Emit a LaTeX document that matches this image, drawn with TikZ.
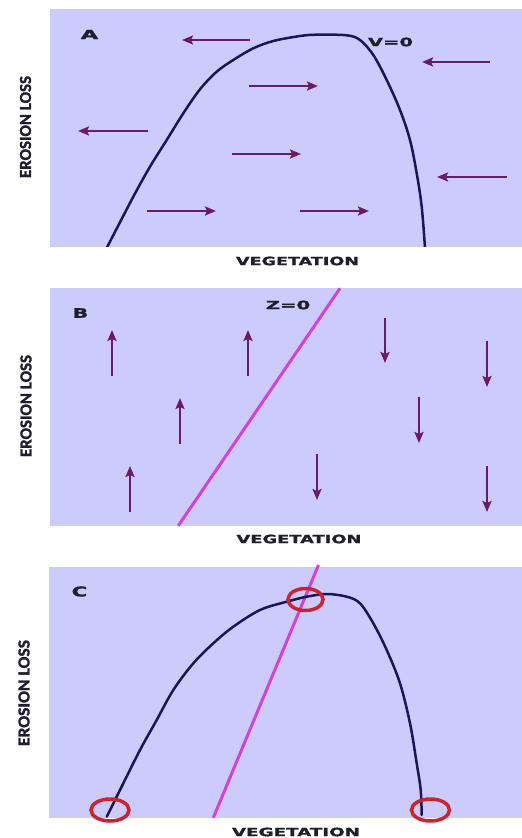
\documentclass[tikz,border=0pt]{standalone}
\usepackage{fontspec}
\usepackage{graphicx}
\usetikzlibrary{arrows.meta}
\newfontfamily\vfont{DejaVu Sans}[BoldFeatures={FakeBold=1.2}]
\newfontfamily\cfont{Carlito}[BoldFeatures={FakeBold=1.5}]
\definecolor{bg}{RGB}{204,204,252}
\definecolor{arrc}{RGB}{110,25,100}
\definecolor{curvec}{RGB}{22,22,88}
\definecolor{magc}{RGB}{214,64,214}
\definecolor{redc}{RGB}{205,35,45}
\definecolor{txtc}{RGB}{30,30,45}
\newcommand{\vtext}[3]{\resizebox{#1pt}{#2pt}{\vfont\bfseries #3}}
\newcommand{\ctext}[3]{\resizebox{#1pt}{#2pt}{\cfont\bfseries #3}}
\begin{document}
\begin{tikzpicture}[x=1pt,y=-1pt,
  panel/.style={fill=bg,draw=none},
  arr/.style={draw=arrc,line width=2.2pt,-{Stealth[length=11pt,width=9pt,inset=2pt]}},
  curve/.style={draw=curvec,line width=2.5pt,line cap=round,line join=round},
  zline/.style={draw=magc,line width=3pt},
  ring/.style={draw=redc,line width=3.5pt},
  lab/.style={inner sep=0pt,text=txtc}]
\useasboundingbox (0,0) rectangle (522,838);
\fill[white] (0,0) rectangle (522,838);

% ---------- Panel A ----------
\fill[panel] (50,9.3) rectangle (522,246.7);
\begin{scope}
\clip (50,9.3) rectangle (522,246.7);
\draw[curve] plot[smooth,tension=0.55] coordinates {(106.7,248) (133.3,196.7) (150,166.7) (166.7,140) (183.3,113.3) (200,89.3) (216.7,71.7) (233.3,60) (253.3,48.3) (273.3,41) (300,36) (316.7,34.7) (346.7,35.3) (360,40) (373.3,55) (386.7,80) (400,110) (410,140) (416.7,173.3) (421.7,206.7) (425,248)};
\end{scope}
\draw[arr] (250,40) -- (182,40);
\draw[arr] (490,62) -- (422,62);
\draw[arr] (249,86) -- (318,86);
\draw[arr] (148,131) -- (78,131);
\draw[arr] (232,154) -- (301,154);
\draw[arr] (507,177) -- (437,177);
\draw[arr] (147,211) -- (216,211);
\draw[arr] (300,211) -- (369,211);
\node[lab] (la) at (89.5,34.5) {\vtext{17.5}{9}{A}};
\node[lab] (v0) at (390.5,42) {\vtext{45}{8.5}{V=0}};
\node[lab,rotate=90] (ya) at (25.5,127) {\ctext{102}{11}{EROSION LOSS}};
\node[lab] (xa) at (297.5,261) {\vtext{123}{8.5}{VEGETATION}};

% ---------- Panel B ----------
\fill[panel] (50,288.3) rectangle (522,525.7);
\draw[zline] (178.3,525.7) -- (340,288.3);
\draw[arr] (112,376) -- (112,330);
\draw[arr] (248,376) -- (248,330);
\draw[arr] (180,444) -- (180,398);
\draw[arr] (130,512) -- (130,466);
\draw[arr] (385,318) -- (385,363);
\draw[arr] (487,341) -- (487,387);
\draw[arr] (419,397) -- (419,443);
\draw[arr] (317,454) -- (317,500);
\draw[arr] (487,466) -- (487,512);
\node[lab] (lb) at (80.5,313) {\vtext{15.5}{9.5}{B}};
\node[lab] (z0) at (288,305) {\vtext{44.5}{8.5}{Z=0}};
\node[lab,rotate=90] (yb) at (26,406) {\ctext{102}{11}{EROSION LOSS}};
\node[lab] (xb) at (299,539) {\vtext{125}{8.5}{VEGETATION}};

% ---------- Panel C ----------
\fill[panel] (49.3,566.7) rectangle (522,817.7);
\draw[zline] (213.3,817.7) -- (318.5,565);
\draw[curve] plot[smooth,tension=0.55] coordinates {(106.7,816.7) (120,790) (140,750) (156.7,720) (173.3,690) (193.3,663.3) (213.3,643.3) (233.3,626.7) (260,610) (286.7,601.7) (306.7,596.7) (326.7,594) (346.7,596.7) (360,603.3) (373.3,623.3) (386.7,650) (400,683.3) (410,723.3) (416.7,763.3) (420.7,790) (421.7,815)};
\draw[ring] (305.5,599.5) ellipse [x radius=17.5, y radius=11];
\draw[ring] (110,810) ellipse [x radius=19, y radius=11];
\draw[ring] (430.5,810) ellipse [x radius=19, y radius=11];
\node[lab] (lc) at (79.5,591.5) {\vtext{15.5}{10}{C}};
\node[lab,rotate=90] (yc) at (24,693) {\ctext{106}{11}{EROSION LOSS}};
\node[lab] (xc) at (296,832) {\vtext{128}{8.5}{VEGETATION}};
\end{tikzpicture}
\end{document}
